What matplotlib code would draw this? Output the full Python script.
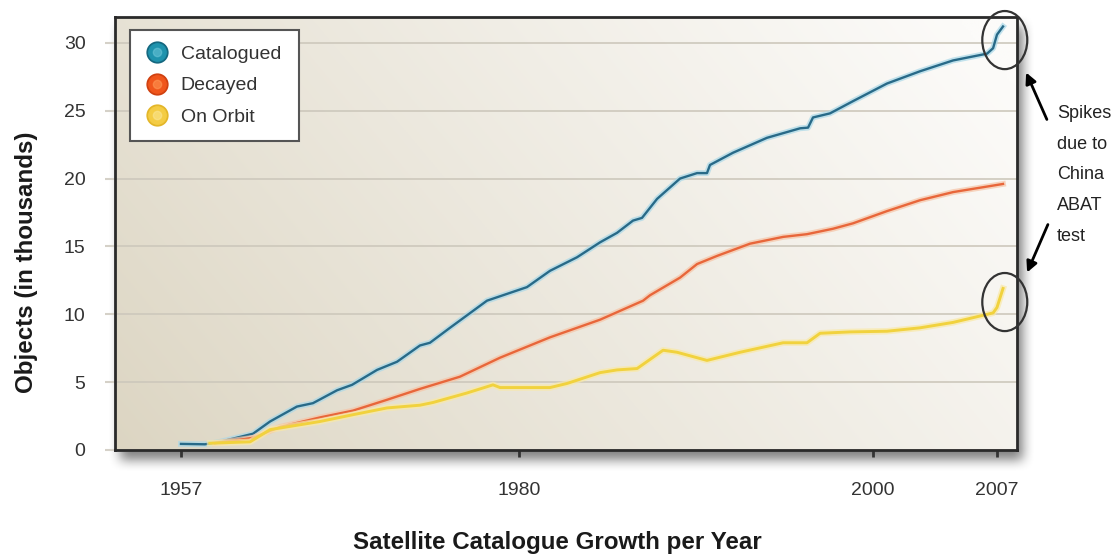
import numpy as np
import matplotlib
matplotlib.use('Agg')
import matplotlib.pyplot as plt
import matplotlib.patheffects as pe
from matplotlib.patches import Ellipse
from matplotlib.lines import Line2D
from matplotlib.legend_handler import HandlerTuple

plt.rcParams['font.family'] = ['Liberation Sans', 'DejaVu Sans']

# objects in the catalogue, thousands
cat_years = [1957.0, 1958.63, 1959.65, 1961.9, 1963.06, 1964.89, 1965.98, 1967.62, 1968.64,
             1970.34, 1971.7, 1973.26, 1973.94, 1975.3, 1977.82, 1980.45, 1981.75, 1983.28,
             1984.58, 1985.54, 1986.44, 1986.95, 1987.8, 1989.1, 1990.06, 1990.62, 1990.79,
             1992.09, 1994.01, 1995.88, 1996.33, 1996.61, 1997.57, 1998.87, 2000.79, 2002.65,
             2004.52, 2006.44, 2006.78, 2007.0, 2007.34]
cat_vals = [0.45, 0.42, 0.6, 1.2, 2.1, 3.2, 3.45, 4.4, 4.8, 5.9, 6.5, 7.7, 7.9, 9.0, 11.0,
            12.0, 13.2, 14.2, 15.3, 16.0, 16.9, 17.1, 18.5, 20.0, 20.4, 20.4, 21.0, 21.9,
            23.0, 23.7, 23.75, 24.5, 24.8, 25.7, 27.0, 27.9, 28.7, 29.2, 29.6, 30.6, 31.2]

dec_years = [1959.31, 1961.9, 1963.74, 1966.46, 1968.7, 1971.02, 1973.26, 1975.98, 1978.71,
             1981.75, 1984.58, 1987.01, 1987.4, 1989.1, 1990.06, 1991.19, 1993.05, 1994.92,
             1996.27, 1997.74, 1998.87, 2000.79, 2002.65, 2004.52, 2007.34]
dec_vals = [0.5, 0.9, 1.7, 2.4, 2.9, 3.7, 4.5, 5.4, 6.8, 8.3, 9.6, 11.0, 11.4, 12.7, 13.7,
            14.3, 15.2, 15.7, 15.9, 16.3, 16.7, 17.6, 18.4, 19.0, 19.6]

orb_years = [1958.97, 1961.7, 1963.06, 1966.46, 1968.7, 1971.02, 1973.26, 1974.15, 1976.46,
             1978.23, 1978.71, 1981.75, 1982.71, 1984.58, 1985.54, 1986.67, 1988.14, 1988.93,
             1990.62, 1992.49, 1994.92, 1996.27, 1997.01, 1998.7, 2000.79, 2002.65, 2004.52,
             2006.78, 2007.0, 2007.34]
orb_vals = [0.5, 0.6, 1.5, 2.1, 2.6, 3.1, 3.3, 3.5, 4.2, 4.8, 4.6, 4.6, 4.9, 5.7, 5.9, 6.0,
            7.35, 7.2, 6.6, 7.2, 7.9, 7.9, 8.6, 8.7, 8.75, 9.0, 9.4, 10.1, 10.5, 11.9]

year_ticks = [1957, 1980, 2000, 2007]
y_ticks = [0, 5, 10, 15, 20, 25, 30]

# uneven year spacing of the time axis (piecewise linear)
scale_years = [1940, 1957, 1980, 2000, 2020]
scale_pos = [-68.8, 181, 519, 873, 1227.2]


def fwd(x):
    return np.interp(x, scale_years, scale_pos)


def inv(x):
    return np.interp(x, scale_pos, scale_years)


W, H = 1115, 557
fig = plt.figure(figsize=(W / 100, H / 100), dpi=100)
L, T, R, B = 115, 17, 1017, 450
rect = [L / W, 1 - B / H, (R - L) / W, (B - T) / H]

# soft drop shadow behind the plot frame
def box_blur(a, r):
    k = np.ones(2 * r + 1) / (2 * r + 1)
    a = np.apply_along_axis(lambda m: np.convolve(m, k, mode='same'), 0, a)
    a = np.apply_along_axis(lambda m: np.convolve(m, k, mode='same'), 1, a)
    return a

mask = np.zeros((H, W))
mask[T + 9:B + 10, L + 5:R + 6] = 1.0
mask = box_blur(box_blur(mask, 6), 6)
shadow = np.zeros((H, W, 4))
shadow[..., 3] = mask * 0.5
fig.figimage(shadow, xo=0, yo=0, origin='upper', zorder=0)

# gradient backdrop
bg = fig.add_axes(rect, zorder=1)
gx, gy = np.meshgrid(np.linspace(0, 1, 400), np.linspace(0, 1, 200))
t = np.clip(0.75 * gx + 0.3 * gy, 0, 1) ** 0.9
c0 = np.array([220, 213, 194]) / 255
c1 = np.array([252, 251, 249]) / 255
bg.imshow(c0 + (c1 - c0) * t[..., None], origin='lower', extent=[0, 1, 0, 1], aspect='auto')
bg.axis('off')

ax = fig.add_axes(rect, zorder=2)
ax.set_facecolor('none')
ax.set_xscale('function', functions=(fwd, inv))

series = [
    (cat_years, cat_vals, '#286a88', '#a9d8e8', 1.7),
    (dec_years, dec_vals, '#e8663a', '#f6c4a6', 1.7),
    (orb_years, orb_vals, '#f1d23e', '#f9e9a6', 2.1),
]
for xs, ys, col, glow, lw in series:
    ax.plot(xs, ys, color=col, lw=lw, solid_joinstyle='round',
            path_effects=[pe.Stroke(linewidth=lw + 2.5, foreground=glow, alpha=0.7), pe.Normal()])

ax.set_xlim(1952.51, 2008.13)
ax.set_ylim(0, 31.9)
ax.set_yticks(y_ticks)
ax.set_xticks(year_ticks)
ax.set_xticklabels([str(y) for y in year_ticks])
ax.yaxis.grid(True, color='#cdc8bc', lw=1.2)
ax.set_axisbelow(True)
for s in ax.spines.values():
    s.set_color('#2a2a2a')
    s.set_linewidth(2)
ax.tick_params(axis='y', length=7.2, width=1.5, color='#d5d1c8', pad=14, labelsize=14,
               labelcolor='#333333')
ax.tick_params(axis='x', length=5, width=2, color='#333333', pad=18, labelsize=14,
               labelcolor='#333333')

# spike annotations
for ys in (cat_vals, orb_vals):
    ax.add_patch(Ellipse((cat_years[-1] + 0.1, ys[-1] - 1.0), 2.54, 4.28, fill=False,
                         ec='#333333', lw=1.6, clip_on=False, zorder=5))
fig.text(1057 / W, 1 - 175 / H, 'Spikes\ndue to\nChina\nABAT\ntest', ha='left', va='center',
         fontsize=13, linespacing=2.05, color='#222222')
for head, tail in [((1025, 70), (1048, 122)), ((1026, 275), (1049, 222))]:
    ax.annotate('', xy=(head[0] / W, 1 - head[1] / H), xycoords='figure fraction',
                xytext=(tail[0] / W, 1 - tail[1] / H), textcoords='figure fraction',
                arrowprops=dict(arrowstyle='-|>', lw=2, color='black', mutation_scale=16))

# legend with shaded ball markers
def ball(base, dark, light):
    return (Line2D([], [], ls='', marker='o', ms=15, mfc=dark, mec=dark),
            Line2D([], [], ls='', marker='o', ms=12.5, mfc=base, mec=base),
            Line2D([], [], ls='', marker='o', ms=6, mfc=light, mec=light, alpha=0.55))

handles = [ball('#1f93ad', '#13677f', '#6cc6d8'),
           ball('#f0561c', '#d0400f', '#ff9a58'),
           ball('#f4cc44', '#e3b628', '#fbe796')]
leg = ax.legend(handles, ['Catalogued', 'Decayed', 'On Orbit'],
                handler_map={tuple: HandlerTuple(ndivide=1, pad=0)},
                loc='upper left', bbox_to_anchor=(15 / 902, 0.5, 169 / 902, (450 - 30) / 433 - 0.5),
                mode='expand', borderaxespad=0, fontsize=14, handlelength=1.2,
                handletextpad=0.6, borderpad=0.8, labelspacing=0.7, fancybox=False,
                framealpha=1, facecolor='white', edgecolor='#555555')
leg.get_frame().set_linewidth(1.5)
for txt in leg.get_texts():
    txt.set_color('#333333')

fig.text(557 / W, 1 - 542 / H, 'Satellite Catalogue Growth per Year', ha='center', va='center',
         fontsize=17.4, fontweight='bold', color='#1a1a1a')
fig.text(27 / W, 1 - 262 / H, 'Objects (in thousands)', ha='center', va='center', rotation=90,
         fontsize=17.4, fontweight='bold', color='#1a1a1a')

fig.savefig('out.png', dpi=100)
